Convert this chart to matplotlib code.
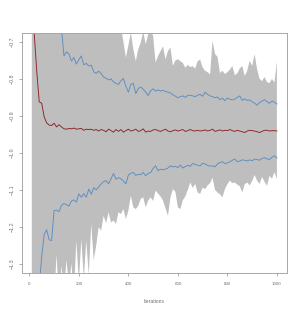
import numpy as np
import matplotlib
matplotlib.use('Agg')
import matplotlib.pyplot as plt

# iterations 10..1000 step 10
iters = np.arange(10, 1001, 10)

mean_est = [-0.25, -0.68, -0.78, -0.862, -0.866, -0.903, -0.919, -0.925, -0.926, -0.920,
            -0.930, -0.924, -0.930, -0.935, -0.936, -0.934, -0.935, -0.933, -0.936, -0.935,
            -0.934, -0.939, -0.936, -0.937, -0.936, -0.939, -0.937, -0.941, -0.937, -0.939,
            -0.943, -0.936, -0.940, -0.944, -0.937, -0.942, -0.937, -0.944, -0.940, -0.936,
            -0.941, -0.939, -0.936, -0.942, -0.940, -0.935, -0.944, -0.941, -0.942, -0.938,
            -0.937, -0.940, -0.942, -0.939, -0.936, -0.941, -0.943, -0.940, -0.938, -0.941,
            -0.939, -0.937, -0.942, -0.940, -0.937, -0.940, -0.941, -0.939, -0.941, -0.940,
            -0.938, -0.941, -0.939, -0.936, -0.942, -0.940, -0.938, -0.941, -0.939, -0.940,
            -0.937, -0.940, -0.942, -0.939, -0.941, -0.943, -0.945, -0.941, -0.939, -0.940,
            -0.941, -0.943, -0.945, -0.942, -0.939, -0.939, -0.941, -0.940, -0.940, -0.941]

upper_ci = [0.35, 0.05, -0.10, -0.22, -0.30, -0.37, -0.42, -0.47, -0.52, -0.55,
            -0.58, -0.62, -0.665, -0.738, -0.727, -0.733, -0.752, -0.742, -0.760, -0.748,
            -0.738, -0.762, -0.758, -0.765, -0.763, -0.781, -0.785, -0.779, -0.786, -0.795,
            -0.798, -0.803, -0.800, -0.808, -0.812, -0.815, -0.805, -0.799, -0.820, -0.836,
            -0.815, -0.812, -0.840, -0.826, -0.822, -0.828, -0.836, -0.845, -0.832, -0.827,
            -0.833, -0.830, -0.833, -0.831, -0.834, -0.836, -0.838, -0.843, -0.847, -0.851,
            -0.848, -0.846, -0.850, -0.845, -0.844, -0.846, -0.848, -0.844, -0.842, -0.847,
            -0.836, -0.842, -0.846, -0.848, -0.851, -0.849, -0.856, -0.852, -0.859, -0.852,
            -0.855, -0.857, -0.855, -0.850, -0.846, -0.858, -0.854, -0.858, -0.857, -0.862,
            -0.866, -0.871, -0.864, -0.860, -0.856, -0.862, -0.866, -0.860, -0.863, -0.868]

lower_ci = [-2.2, -1.8, -1.55, -1.36, -1.28, -1.22, -1.208, -1.235, -1.237, -1.156,
            -1.155, -1.159, -1.142, -1.137, -1.140, -1.144, -1.130, -1.127, -1.133, -1.111,
            -1.120, -1.110, -1.120, -1.098, -1.112, -1.094, -1.100, -1.092, -1.084, -1.078,
            -1.075, -1.084, -1.070, -1.056, -1.071, -1.067, -1.070, -1.076, -1.084, -1.060,
            -1.055, -1.053, -1.061, -1.058, -1.059, -1.053, -1.062, -1.056, -1.053, -1.042,
            -1.035, -1.048, -1.044, -1.046, -1.044, -1.041, -1.035, -1.038, -1.036, -1.040,
            -1.033, -1.041, -1.037, -1.034, -1.036, -1.029, -1.031, -1.034, -1.035, -1.028,
            -1.030, -1.034, -1.036, -1.035, -1.038, -1.030, -1.026, -1.024, -1.029, -1.027,
            -1.024, -1.020, -1.017, -1.024, -1.022, -1.019, -1.020, -1.022, -1.019, -1.021,
            -1.017, -1.018, -1.020, -1.015, -1.013, -1.016, -1.018, -1.012, -1.008, -1.014]

run_max = [0.6, 0.4, 0.2, 0.1, -0.05, -0.12, -0.2, -0.25, -0.3, -0.35,
           -0.4, -0.43, -0.46, -0.5, -0.52, -0.55, -0.56, -0.58, -0.6, -0.6,
           -0.62, -0.61, -0.63, -0.62, -0.64, -0.63, -0.65, -0.64, -0.65, -0.66,
           -0.65, -0.66, -0.655, -0.665, -0.66, -0.67, -0.66, -0.70, -0.742, -0.71,
           -0.675, -0.72, -0.752, -0.72, -0.702, -0.672, -0.706, -0.68, -0.665, -0.684,
           -0.756, -0.738, -0.725, -0.712, -0.747, -0.725, -0.715, -0.765, -0.750, -0.747,
           -0.752, -0.757, -0.770, -0.762, -0.768, -0.766, -0.772, -0.752, -0.748, -0.769,
           -0.778, -0.782, -0.788, -0.697, -0.733, -0.740, -0.784, -0.778, -0.787, -0.782,
           -0.775, -0.765, -0.790, -0.785, -0.772, -0.765, -0.792, -0.778, -0.751, -0.765,
           -0.733, -0.774, -0.800, -0.806, -0.795, -0.809, -0.811, -0.800, -0.810, -0.754]

run_min = [-2.6, -2.3, -2.0, -1.8, -1.65, -1.55, -1.5, -1.45, -1.42, -1.40,
           -1.275, -1.40, -1.305, -1.38, -1.29, -1.36, -1.30, -1.38, -1.237, -1.35,
           -1.233, -1.34, -1.237, -1.33, -1.192, -1.29, -1.251, -1.201, -1.21, -1.17,
           -1.19, -1.161, -1.188, -1.183, -1.192, -1.161, -1.165, -1.152, -1.179, -1.156,
           -1.116, -1.147, -1.152, -1.143, -1.125, -1.120, -1.147, -1.129, -1.12, -1.13,
           -1.102, -1.11, -1.118, -1.129, -1.15, -1.170, -1.12, -1.098, -1.105, -1.147,
           -1.152, -1.128, -1.118, -1.10, -1.080, -1.095, -1.084, -1.107, -1.111, -1.094,
           -1.098, -1.088, -1.082, -1.067, -1.100, -1.107, -1.112, -1.120, -1.098, -1.085,
           -1.075, -1.082, -1.080, -1.086, -1.090, -1.107, -1.085, -1.080, -1.088, -1.076,
           -1.060, -1.075, -1.084, -1.065, -1.078, -1.089, -1.062, -1.070, -1.052, -1.071]

xticks = [0, 200, 400, 600, 800, 1000]
yticks = [-1.3, -1.2, -1.1, -1.0, -0.9, -0.8, -0.7]
ytick_labels = ['\u22121.3', '\u22121.2', '\u22121.1', '\u22121.0', '\u22120.9', '\u22120.8', '\u22120.7']

plt.rcParams['font.family'] = ['Liberation Sans', 'DejaVu Sans']

fig = plt.figure(figsize=(2.99, 3.14), dpi=100)
ax = fig.add_axes([0.0736, 0.1315, 0.8853, 0.7634])

ax.fill_between(iters, run_min, run_max, color='#BEBEBE', lw=0)
ax.plot(iters, upper_ci, color='#5B8DC2', lw=0.65)
ax.plot(iters, lower_ci, color='#5B8DC2', lw=0.65)
ax.plot(iters, mean_est, color='#8B2323', lw=0.65)

ax.set_xlim(-29.6, 1039.6)
ax.set_ylim(-1.324, -0.676)

ax.set_xticks(xticks)
ax.set_xticklabels([str(t) for t in xticks])
ax.set_yticks(yticks)
ax.set_yticklabels(ytick_labels, rotation=90, va='center')

for s in ax.spines.values():
    s.set_color('#A8A8A8')
    s.set_linewidth(0.7)
ax.tick_params(axis='both', length=2, width=0.6, color='#A0A0A0', labelcolor='#707070')
ax.tick_params(axis='x', labelsize=3.2, pad=4.5)
ax.tick_params(axis='y', labelsize=3.8, pad=3)

fig.text(0.516, 0.039, 'Iterations', ha='center', va='center', fontsize=3.6, color='#707070')

fig.savefig('out.png', dpi=100)
